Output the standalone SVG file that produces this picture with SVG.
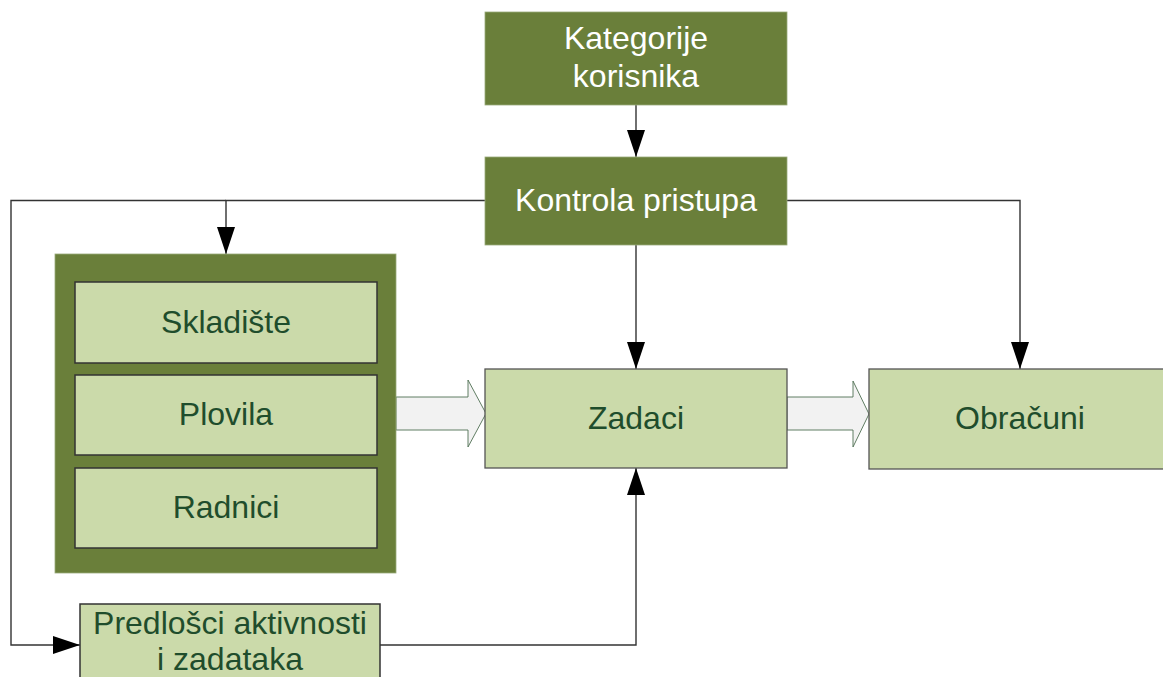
<svg xmlns="http://www.w3.org/2000/svg" width="1163" height="677" viewBox="0 0 1163 677">
  <style>
    .dark { fill: #6a7f3a; stroke: #9aaa7a; stroke-width: 0.8; }
    .light { fill: #cbdaaa; stroke: #555; stroke-width: 1.3; }
    .inner { fill: #cbdaaa; stroke: #333; stroke-width: 1.5; }
    .wt { fill: #ffffff; font-family: "Liberation Sans", Arial, sans-serif; font-size: 32px; text-anchor: middle; }
    .gt { fill: #1f4d2c; font-family: "Liberation Sans", Arial, sans-serif; font-size: 32px; text-anchor: middle; }
    .conn { fill: none; stroke: #333; stroke-width: 1.4; }
    .block { fill: #f2f2f2; stroke: #4f6f52; stroke-width: 0.9; }
  </style>
  <defs>
    <marker id="head" viewBox="0 0 27 18" markerWidth="27" markerHeight="18" refX="27" refY="9" orient="auto" markerUnits="userSpaceOnUse">
      <path d="M0,0 L27,9 L0,18 Z" fill="#000"/>
    </marker>
  </defs>

  <!-- connectors -->
  <g id="connectors">
    <path class="conn" d="M636 105 V157" marker-end="url(#head)"/>
    <path class="conn" d="M636 245 V369" marker-end="url(#head)"/>
    <path class="conn" d="M787 200.5 H1020 V369" marker-end="url(#head)"/>
    <path class="conn" d="M485 200.5 H226 V254" marker-end="url(#head)"/>
    <path class="conn" d="M226 200.5 H11 V645 H80" marker-end="url(#head)"/>
    <path class="conn" d="M380 645 H636 V468" marker-end="url(#head)"/>
    <polygon class="block" points="396,397 468,397 468,380 486,413.5 468,447 468,430 396,430"/>
    <polygon class="block" points="787,397 853,397 853,381 869,414 853,447 853,430 787,430"/>
  </g>

  <g id="kategorije">
    <rect class="dark" x="485" y="12" width="302" height="93"/>
    <text class="wt" x="636" y="49">Kategorije</text>
    <text class="wt" x="636" y="87">korisnika</text>
  </g>

  <g id="kontrola">
    <rect class="dark" x="485" y="157" width="302" height="88"/>
    <text class="wt" x="636" y="211">Kontrola pristupa</text>
  </g>

  <g id="resursi">
    <rect class="dark" x="55" y="254" width="341" height="319"/>
    <g id="skladiste">
      <rect class="inner" x="75" y="282" width="302" height="81"/>
      <text class="gt" x="226" y="333">Skladište</text>
    </g>
    <g id="plovila">
      <rect class="inner" x="75" y="375" width="302" height="80"/>
      <text class="gt" x="226" y="425">Plovila</text>
    </g>
    <g id="radnici">
      <rect class="inner" x="75" y="468" width="302" height="80"/>
      <text class="gt" x="226" y="518">Radnici</text>
    </g>
  </g>

  <g id="zadaci">
    <rect class="light" x="485" y="369" width="302" height="99"/>
    <text class="gt" x="636" y="429">Zadaci</text>
  </g>

  <g id="obracuni">
    <rect class="light" x="869" y="369" width="302" height="100"/>
    <text class="gt" x="1020" y="429">Obračuni</text>
  </g>

  <g id="predlosci">
    <rect class="inner" x="80" y="604" width="300" height="90"/>
    <text class="gt" x="230" y="634">Predlošci aktivnosti</text>
    <text class="gt" x="230" y="670">i zadataka</text>
  </g>
</svg>
